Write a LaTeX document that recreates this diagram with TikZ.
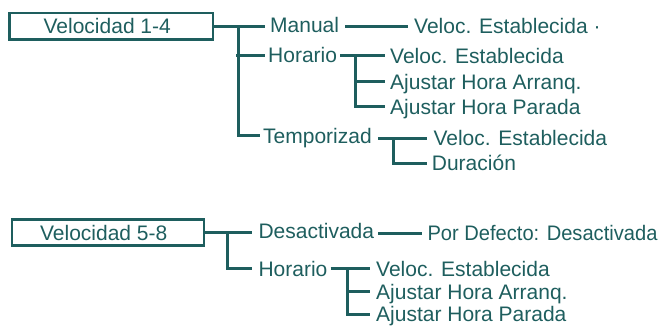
\documentclass[tikz,border=0pt]{standalone}
\usepackage{fontspec}
\setmainfont{Liberation Sans}
\definecolor{dteal}{RGB}{30,94,94}
\begin{document}
\begin{tikzpicture}[x=1pt,y=-1pt,
  every node/.style={font=\fontsize{21}{25}\selectfont, text=dteal},
  lbl/.style={anchor=base west, inner sep=0pt},
  box/.style={draw=dteal, line width=2.5pt, inner sep=0pt},
  conn/.style={draw=dteal, line width=3pt}]
\useasboundingbox (0,0) rectangle (660,329);

% boxes
\node[box, minimum width=203.5pt, minimum height=26.5pt] (box1) at (111.25,26.25) {\hspace*{-8pt}Velocidad 1-4};
\node[box, minimum width=192pt, minimum height=26pt] (box2) at (108,232.5) {\hspace*{-8.6pt}Velocidad 5-8};

% top labels
\node[lbl] (manual) at (270,32.5) {Manual};
\node[lbl] (horario1) at (268,63) {Horario};
\node[lbl] (tempo) at (263,143) {Temporizad};
\node[lbl] (m1) at (414,34) {Veloc. Establecida ·};
\node[lbl] (h1) at (390,63.3) {Veloc. Establecida};
\node[lbl] (h2) at (390,89.3) {Ajustar Hora Arranq.};
\node[lbl] (h3) at (390,114.3) {Ajustar Hora Parada};
\node[lbl] (t1) at (433.3,145.7) {Veloc. Establecida};
\node[lbl] (t2) at (431.7,170.7) {Duración};

% bottom labels
\node[lbl] (desact) at (258.3,238.3) {Desactivada};
\node[lbl] (horario2) at (258.3,276) {Horario};
\node[lbl] (d1) at (427.3,240.7) {\scalebox{0.958}[1]{Por Defecto: Desactivada}};
\node[lbl] (b1) at (376,276) {Veloc. Establecida};
\node[lbl] (b2) at (376,299.3) {Ajustar Hora Arranq.};
\node[lbl] (b3) at (376,321.7) {Ajustar Hora Parada};

% connection points
\coordinate (manual-in) at ([shift={(-5pt,7.5pt)}]manual.base west);
\coordinate (horario1-in) at ([shift={(-3pt,7.5pt)}]horario1.base west);
\coordinate (tempo-in) at ([shift={(-3pt,7.5pt)}]tempo.base west);
\coordinate (m1-in) at ([shift={(-6pt,7.5pt)}]m1.base west);
\coordinate (h1-in) at ([shift={(-5pt,7.5pt)}]h1.base west);
\coordinate (h2-in) at ([shift={(-5pt,7.5pt)}]h2.base west);
\coordinate (h3-in) at ([shift={(-5pt,7.5pt)}]h3.base west);
\coordinate (t1-in) at ([shift={(-6pt,7.5pt)}]t1.base west);
\coordinate (t2-in) at ([shift={(-5pt,7.5pt)}]t2.base west);
\coordinate (desact-in) at ([shift={(-6.6pt,7.5pt)}]desact.base west);
\coordinate (horario2-in) at ([shift={(-6.6pt,7.5pt)}]horario2.base west);
\coordinate (d1-in) at ([shift={(-5.6pt,7.5pt)}]d1.base west);
\coordinate (b1-in) at ([shift={(-6pt,7.5pt)}]b1.base west);
\coordinate (b2-in) at ([shift={(-6pt,7.5pt)}]b2.base west);
\coordinate (b3-in) at ([shift={(-6pt,7.5pt)}]b3.base west);

\coordinate (manual-out) at ([shift={(6pt,7.5pt)}]manual.base east);
\coordinate (horario1-out) at ([shift={(3pt,7.5pt)}]horario1.base east);
\coordinate (tempo-out) at ([shift={(6.5pt,7.5pt)}]tempo.base east);
\coordinate (desact-out) at ([shift={(4pt,7.5pt)}]desact.base east);
\coordinate (horario2-out) at ([shift={(3pt,7.5pt)}]horario2.base east);

% forks
\coordinate (f1) at ([xshift=24pt]box1.east);
\coordinate (f2) at ([xshift=15pt]horario1-out);
\coordinate (f3) at ([xshift=15pt]tempo-out);
\coordinate (f4) at ([xshift=22.5pt]box2.east);
\coordinate (f5) at ([xshift=16.5pt]horario2-out);

% top tree
\draw[conn] (box1.east) -- (box1.east -| manual-in);
\draw[conn] (f1) |- (tempo-in);
\draw[conn] ([xshift=-2pt]f1 |- horario1-in) -- (horario1-in);
\draw[conn] (manual-out |- m1-in) -- (m1-in);
\draw[conn] (horario1-out |- h1-in) -- (h1-in);
\draw[conn] (f2 |- h1-in) |- (h3-in);
\draw[conn] (f2 |- h2-in) -- (h2-in);
\draw[conn] (tempo-out |- t1-in) -- (t1-in);
\draw[conn] (f3 |- t1-in) |- (t2-in);

% bottom tree
\draw[conn] (box2.east) -- (box2.east -| desact-in);
\draw[conn] (f4) |- (horario2-in);
\draw[conn] (desact-out |- d1-in) -- (d1-in);
\draw[conn] (horario2-out |- b1-in) -- (b1-in);
\draw[conn] (f5 |- b1-in) |- (b3-in);
\draw[conn] (f5 |- b2-in) -- (b2-in);
\end{tikzpicture}
\end{document}
